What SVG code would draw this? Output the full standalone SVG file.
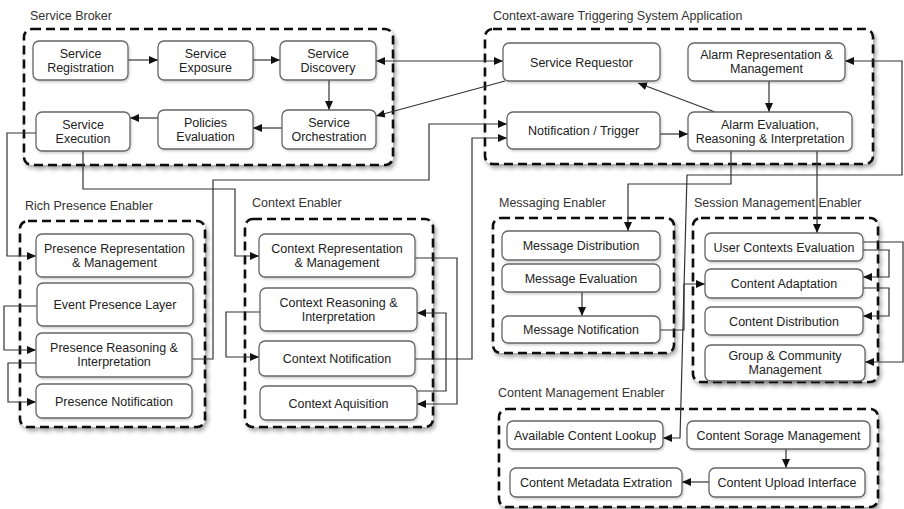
<svg xmlns="http://www.w3.org/2000/svg" width="904" height="509" viewBox="0 0 904 509">
<style>
.cl{fill:#fff;stroke:#111;stroke-width:2.6;stroke-dasharray:9 5;filter:url(#sh)}
.bx{fill:#fff;stroke:#666;stroke-width:1.3;filter:url(#sh2)}
.t{font-family:"Liberation Sans",Arial,sans-serif;font-size:12.5px;fill:#222;text-anchor:middle}
.lb{font-family:"Liberation Sans",Arial,sans-serif;font-size:12.5px;fill:#333}
.c{fill:none;stroke:#333;stroke-width:1.2}
.a{marker-end:url(#ah)}
.b{marker-start:url(#ah);marker-end:url(#ah)}
</style>
<defs>
<filter id="sh" x="-10%" y="-10%" width="120%" height="125%"><feDropShadow dx="2" dy="3" stdDeviation="2.2" flood-color="#000" flood-opacity="0.35"/></filter>
<filter id="sh2" x="-10%" y="-20%" width="120%" height="150%"><feDropShadow dx="1" dy="1.5" stdDeviation="1.2" flood-color="#000" flood-opacity="0.2"/></filter>
<marker id="ah" markerUnits="userSpaceOnUse" markerWidth="9" markerHeight="8" refX="9" refY="4" orient="auto-start-reverse"><path d="M0,0 L9,4 L0,8 z" fill="#111"/></marker>
</defs>
<rect width="904" height="509" fill="#fff"/>

<g id="service-broker">
<rect class="cl" x="24" y="29" width="369" height="136" rx="8"/>
<text class="lb" x="30" y="20">Service Broker</text>
</g>
<g id="catsa">
<rect class="cl" x="485" y="29" width="388" height="135" rx="8"/>
<text class="lb" x="493" y="20">Context-aware Triggering System Application</text>
</g>
<g id="rich-presence-enabler">
<rect class="cl" x="20" y="221" width="185" height="206" rx="8"/>
<text class="lb" x="25" y="210">Rich Presence Enabler</text>
</g>
<g id="context-enabler">
<rect class="cl" x="245" y="219" width="188" height="208" rx="8"/>
<text class="lb" x="252" y="207">Context Enabler</text>
</g>
<g id="messaging-enabler">
<rect class="cl" x="493" y="218" width="181" height="135" rx="8"/>
<text class="lb" x="499" y="207">Messaging Enabler</text>
</g>
<g id="session-management-enabler">
<rect class="cl" x="693" y="218" width="185" height="164" rx="8"/>
<text class="lb" x="694" y="207">Session Management Enabler</text>
</g>
<g id="content-management-enabler">
<rect class="cl" x="499" y="409" width="379" height="98" rx="8"/>
<text class="lb" x="498" y="397">Content Management Enabler</text>
</g>

<g id="connectors">
<path class="c a" d="M128,60 H158"/>
<path class="c a" d="M253,60 H280"/>
<path class="c a" d="M329,80 V110"/>
<path class="c a" d="M282,128 H253"/>
<path class="c a" d="M158,118 H130"/>
<path class="c b" d="M376,61 H503"/>
<path class="c a" d="M505,81 L376,116"/>
<path class="c a" d="M36,133 H7 V256 H36"/>
<path class="c a" d="M83,151 V189 H235 V256 H259"/>
<path class="c a" d="M192,359 H213 V180 H429 V124 H507"/>
<path class="c a" d="M415,359 H472 V138 H507"/>
<path class="c a" d="M660,134 H688"/>
<path class="c a" d="M769,81 V112"/>
<path class="c a" d="M715,112 L638,83"/>
<path class="c a" d="M731,151 V184 H628 V231"/>
<path class="c a" d="M817,151 V233"/>
<path class="c b" d="M845,61 H902 V175 H687 L680,438 H663"/>
<path class="c a" d="M582,292 V316"/>
<path class="c a" d="M660,330 H684 V284 H705"/>
<path class="c a" d="M863,242 H903 V362 H865"/>
<path class="c a" d="M863,250 H889 V277 H863"/>
<path class="c a" d="M863,288 H889 V316 H863"/>
<path class="c a" d="M37,306 H4 V350 H36"/>
<path class="c a" d="M36,363 H8 V402 H36"/>
<path class="c a" d="M260,312 H226 V357 H259"/>
<path class="c a" d="M415,258 H457 V404 H417"/>
<path class="c a" d="M417,391 H446 V313 H417"/>
<path class="c a" d="M786,449 V468"/>
<path class="c a" d="M709,482 H682"/>
</g>

<g id="service-registration"><rect class="bx" x="33" y="41" width="95" height="39" rx="6"/><text class="t" x="80.5" y="57.5">Service</text><text class="t" x="80.5" y="71.5">Registration</text></g>
<g id="service-exposure"><rect class="bx" x="158" y="41" width="95" height="39" rx="6"/><text class="t" x="205.5" y="57.5">Service</text><text class="t" x="205.5" y="71.5">Exposure</text></g>
<g id="service-discovery"><rect class="bx" x="280" y="41" width="96" height="39" rx="6"/><text class="t" x="328" y="57.5">Service</text><text class="t" x="328" y="71.5">Discovery</text></g>
<g id="service-execution"><rect class="bx" x="36" y="112" width="94" height="39" rx="6"/><text class="t" x="83" y="129">Service</text><text class="t" x="83" y="143">Execution</text></g>
<g id="policies-evaluation"><rect class="bx" x="158" y="110" width="95" height="39" rx="6"/><text class="t" x="205.5" y="126.5">Policies</text><text class="t" x="205.5" y="140.5">Evaluation</text></g>
<g id="service-orchestration"><rect class="bx" x="282" y="110" width="94" height="39" rx="6"/><text class="t" x="329" y="126.5">Service</text><text class="t" x="329" y="140.5">Orchestration</text></g>

<g id="service-requestor"><rect class="bx" x="503" y="43" width="157" height="38" rx="6"/><text class="t" x="581.5" y="66.5">Service Requestor</text></g>
<g id="alarm-representation"><rect class="bx" x="688" y="43" width="157" height="38" rx="6"/><text class="t" x="766.5" y="59">Alarm Representation &amp;</text><text class="t" x="766.5" y="73">Management</text></g>
<g id="notification-trigger"><rect class="bx" x="507" y="112" width="153" height="37" rx="6"/><text class="t" x="583.5" y="135">Notification / Trigger</text></g>
<g id="alarm-evaluation"><rect class="bx" x="688" y="112" width="164" height="39" rx="6"/><text class="t" x="770" y="128.5">Alarm Evaluation,</text><text class="t" x="770" y="142.5">Reasoning &amp; Interpretation</text></g>

<g id="presence-representation"><rect class="bx" x="36" y="234" width="157" height="43" rx="6"/><text class="t" x="114.5" y="252.5">Presence Representation</text><text class="t" x="114.5" y="266.5">&amp; Management</text></g>
<g id="event-presence-layer"><rect class="bx" x="37" y="283" width="156" height="43" rx="6"/><text class="t" x="115" y="309">Event Presence Layer</text></g>
<g id="presence-reasoning"><rect class="bx" x="36" y="333" width="156" height="44" rx="6"/><text class="t" x="114" y="352">Presence Reasoning &amp;</text><text class="t" x="114" y="366">Interpretation</text></g>
<g id="presence-notification"><rect class="bx" x="36" y="384" width="156" height="34" rx="6"/><text class="t" x="114" y="405.5">Presence Notification</text></g>

<g id="context-representation"><rect class="bx" x="259" y="234" width="156" height="43" rx="6"/><text class="t" x="337" y="252.5">Context Representation</text><text class="t" x="337" y="266.5">&amp; Management</text></g>
<g id="context-reasoning"><rect class="bx" x="260" y="288" width="157" height="43" rx="6"/><text class="t" x="338.5" y="306.5">Context Reasoning &amp;</text><text class="t" x="338.5" y="320.5">Interpretation</text></g>
<g id="context-notification"><rect class="bx" x="259" y="341" width="156" height="35" rx="6"/><text class="t" x="337" y="363">Context Notification</text></g>
<g id="context-aquisition"><rect class="bx" x="260" y="386" width="157" height="34" rx="6"/><text class="t" x="338.5" y="407.5">Context Aquisition</text></g>

<g id="message-distribution"><rect class="bx" x="502" y="231" width="158" height="29" rx="6"/><text class="t" x="581" y="250">Message Distribution</text></g>
<g id="message-evaluation"><rect class="bx" x="502" y="264" width="158" height="28" rx="6"/><text class="t" x="581" y="282.5">Message Evaluation</text></g>
<g id="message-notification"><rect class="bx" x="502" y="316" width="158" height="27" rx="6"/><text class="t" x="581" y="334">Message Notification</text></g>

<g id="user-contexts-evaluation"><rect class="bx" x="705" y="233" width="158" height="28" rx="6"/><text class="t" x="784" y="251.5">User Contexts Evaluation</text></g>
<g id="content-adaptation"><rect class="bx" x="705" y="269" width="158" height="29" rx="6"/><text class="t" x="784" y="288">Content Adaptation</text></g>
<g id="content-distribution"><rect class="bx" x="705" y="307" width="158" height="28" rx="6"/><text class="t" x="784" y="325.5">Content Distribution</text></g>
<g id="group-community"><rect class="bx" x="705" y="345" width="160" height="36" rx="6"/><text class="t" x="785" y="360">Group &amp; Community</text><text class="t" x="785" y="374">Management</text></g>

<g id="available-content-lookup"><rect class="bx" x="507" y="421" width="156" height="28" rx="6"/><text class="t" x="585" y="439.5">Available Content Lookup</text></g>
<g id="content-storage-management"><rect class="bx" x="687" y="421" width="183" height="28" rx="6"/><text class="t" x="778.5" y="439.5">Content Sorage Management</text></g>
<g id="content-metadata-extraction"><rect class="bx" x="510" y="468" width="172" height="29" rx="6"/><text class="t" x="596" y="487">Content Metadata Extration</text></g>
<g id="content-upload-interface"><rect class="bx" x="709" y="468" width="156" height="29" rx="6"/><text class="t" x="787" y="487">Content Upload Interface</text></g>
</svg>
